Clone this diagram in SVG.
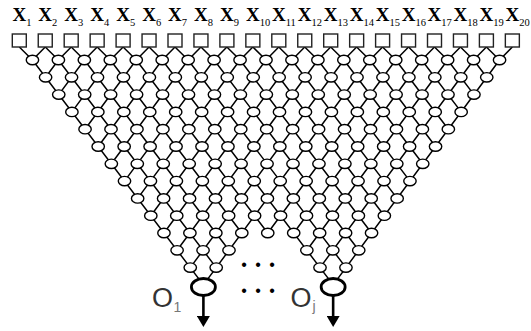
<svg xmlns="http://www.w3.org/2000/svg" width="531" height="331" viewBox="0 0 531 331">
<style>
.c{fill:none;stroke:#000;stroke-width:1.5;stroke-linejoin:round}
.a{fill:none;stroke:#000;stroke-width:2.6}
.hn{fill:#fff;stroke:#000;stroke-width:1.4}
.bn{fill:#fff;stroke:#000;stroke-width:2.8}
.sq{fill:#fff;stroke:#222;stroke-width:1.4}
.lx{font-family:"Liberation Serif",serif;font-size:19px;font-weight:bold;fill:#000}
.sub{font-size:10.5px;font-weight:normal}
.ol{font-family:"Liberation Sans",sans-serif;font-size:27px;fill:#333}
.os{font-family:"Liberation Sans",sans-serif;font-size:14px;fill:#777}
.dots{font-family:"Liberation Sans",sans-serif;font-size:16px;letter-spacing:8.4px;fill:#000}
</style>
<defs>
<ellipse id="e" cx="0" cy="0" rx="6.2" ry="4.7" class="hn"/>
<marker id="ah" markerUnits="userSpaceOnUse" markerWidth="11" markerHeight="13" refX="0" refY="6.5" orient="auto" viewBox="0 0 11 13"><path d="M0,0 L11,6.5 L0,13 z" fill="#000"/></marker>
</defs>
<g id="connectors">
<polyline class="c" points="19.3,47 32.45,60 203.4,284.9"/>
<polyline class="c" points="45.25,47 58.4,60 216.2,267.6"/>
<polyline class="c" points="71.2,47 84.35,60 229,250.3"/>
<polyline class="c" points="97.15,47 110.3,60 241.8,233"/>
<polyline class="c" points="123.1,47 136.25,60 267.75,233"/>
<polyline class="c" points="149.05,47 162.2,60 333.15,284.9"/>
<polyline class="c" points="175,47 188.15,60 345.95,267.6"/>
<polyline class="c" points="200.95,47 214.1,60 358.75,250.3"/>
<polyline class="c" points="226.9,47 240.05,60 371.55,233"/>
<polyline class="c" points="252.85,47 266,60 384.35,215.7"/>
<polyline class="c" points="278.8,47 291.95,60 397.15,198.4"/>
<polyline class="c" points="304.75,47 317.9,60 409.95,181.1"/>
<polyline class="c" points="330.7,47 343.85,60 422.75,163.8"/>
<polyline class="c" points="356.65,47 369.8,60 435.55,146.5"/>
<polyline class="c" points="382.6,47 395.75,60 448.35,129.2"/>
<polyline class="c" points="408.55,47 421.7,60 461.15,111.9"/>
<polyline class="c" points="434.5,47 447.65,60 473.95,94.6"/>
<polyline class="c" points="460.45,47 473.6,60 486.75,77.3"/>
<polyline class="c" points="486.4,47 499.55,60"/>
<polyline class="c" points="45.25,47 32.45,60"/>
<polyline class="c" points="71.2,47 58.4,60 45.6,77.3"/>
<polyline class="c" points="97.15,47 84.35,60 58.75,94.6"/>
<polyline class="c" points="123.1,47 110.3,60 71.9,111.9"/>
<polyline class="c" points="149.05,47 136.25,60 85.05,129.2"/>
<polyline class="c" points="175,47 162.2,60 98.2,146.5"/>
<polyline class="c" points="200.95,47 188.15,60 111.35,163.8"/>
<polyline class="c" points="226.9,47 214.1,60 124.5,181.1"/>
<polyline class="c" points="252.85,47 240.05,60 137.65,198.4"/>
<polyline class="c" points="278.8,47 266,60 150.8,215.7"/>
<polyline class="c" points="304.75,47 291.95,60 163.95,233"/>
<polyline class="c" points="330.7,47 317.9,60 177.1,250.3"/>
<polyline class="c" points="356.65,47 343.85,60 190.25,267.6"/>
<polyline class="c" points="382.6,47 369.8,60 203.4,284.9"/>
<polyline class="c" points="408.55,47 395.75,60 267.75,233"/>
<polyline class="c" points="434.5,47 421.7,60 293.7,233"/>
<polyline class="c" points="460.45,47 447.65,60 306.85,250.3"/>
<polyline class="c" points="486.4,47 473.6,60 320,267.6"/>
<polyline class="c" points="512.35,47 499.55,60 333.15,284.9"/>
<line class="a" x1="203.4" y1="295.5" x2="203.4" y2="316" marker-end="url(#ah)"/>
<line class="a" x1="333.15" y1="295.5" x2="333.15" y2="316" marker-end="url(#ah)"/>
</g>
<g id="inputs">
<g id="x1"><rect class="sq" x="12.3" y="34" width="14" height="13"/><text class="lx" x="12.4" y="21">X<tspan class="sub" dy="5">1</tspan></text></g>
<g id="x2"><rect class="sq" x="38.25" y="34" width="14" height="13"/><text class="lx" x="38.35" y="21">X<tspan class="sub" dy="5">2</tspan></text></g>
<g id="x3"><rect class="sq" x="64.2" y="34" width="14" height="13"/><text class="lx" x="64.3" y="21">X<tspan class="sub" dy="5">3</tspan></text></g>
<g id="x4"><rect class="sq" x="90.15" y="34" width="14" height="13"/><text class="lx" x="90.25" y="21">X<tspan class="sub" dy="5">4</tspan></text></g>
<g id="x5"><rect class="sq" x="116.1" y="34" width="14" height="13"/><text class="lx" x="116.2" y="21">X<tspan class="sub" dy="5">5</tspan></text></g>
<g id="x6"><rect class="sq" x="142.05" y="34" width="14" height="13"/><text class="lx" x="142.15" y="21">X<tspan class="sub" dy="5">6</tspan></text></g>
<g id="x7"><rect class="sq" x="168" y="34" width="14" height="13"/><text class="lx" x="168.1" y="21">X<tspan class="sub" dy="5">7</tspan></text></g>
<g id="x8"><rect class="sq" x="193.95" y="34" width="14" height="13"/><text class="lx" x="194.05" y="21">X<tspan class="sub" dy="5">8</tspan></text></g>
<g id="x9"><rect class="sq" x="219.9" y="34" width="14" height="13"/><text class="lx" x="220" y="21">X<tspan class="sub" dy="5">9</tspan></text></g>
<g id="x10"><rect class="sq" x="245.85" y="34" width="14" height="13"/><text class="lx" x="245.95" y="21">X<tspan class="sub" dy="5">10</tspan></text></g>
<g id="x11"><rect class="sq" x="271.8" y="34" width="14" height="13"/><text class="lx" x="271.9" y="21">X<tspan class="sub" dy="5">11</tspan></text></g>
<g id="x12"><rect class="sq" x="297.75" y="34" width="14" height="13"/><text class="lx" x="297.85" y="21">X<tspan class="sub" dy="5">12</tspan></text></g>
<g id="x13"><rect class="sq" x="323.7" y="34" width="14" height="13"/><text class="lx" x="323.8" y="21">X<tspan class="sub" dy="5">13</tspan></text></g>
<g id="x14"><rect class="sq" x="349.65" y="34" width="14" height="13"/><text class="lx" x="349.75" y="21">X<tspan class="sub" dy="5">14</tspan></text></g>
<g id="x15"><rect class="sq" x="375.6" y="34" width="14" height="13"/><text class="lx" x="375.7" y="21">X<tspan class="sub" dy="5">15</tspan></text></g>
<g id="x16"><rect class="sq" x="401.55" y="34" width="14" height="13"/><text class="lx" x="401.65" y="21">X<tspan class="sub" dy="5">16</tspan></text></g>
<g id="x17"><rect class="sq" x="427.5" y="34" width="14" height="13"/><text class="lx" x="427.6" y="21">X<tspan class="sub" dy="5">17</tspan></text></g>
<g id="x18"><rect class="sq" x="453.45" y="34" width="14" height="13"/><text class="lx" x="453.55" y="21">X<tspan class="sub" dy="5">18</tspan></text></g>
<g id="x19"><rect class="sq" x="479.4" y="34" width="14" height="13"/><text class="lx" x="479.5" y="21">X<tspan class="sub" dy="5">19</tspan></text></g>
<g id="x20"><rect class="sq" x="505.35" y="34" width="14" height="13"/><text class="lx" x="505.45" y="21">X<tspan class="sub" dy="5">20</tspan></text></g>
</g>
<g id="hidden">
<g transform="translate(32.45,60)">
<g id="h1-0"><use href="#e" x="0"/></g><g id="h1-1"><use href="#e" x="25.95"/></g><g id="h1-2"><use href="#e" x="51.9"/></g><g id="h1-3"><use href="#e" x="77.85"/></g><g id="h1-4"><use href="#e" x="103.8"/></g><g id="h1-5"><use href="#e" x="129.75"/></g><g id="h1-6"><use href="#e" x="155.7"/></g><g id="h1-7"><use href="#e" x="181.65"/></g><g id="h1-8"><use href="#e" x="207.6"/></g><g id="h1-9"><use href="#e" x="233.55"/></g><g id="h1-10"><use href="#e" x="259.5"/></g><g id="h1-11"><use href="#e" x="285.45"/></g><g id="h1-12"><use href="#e" x="311.4"/></g><g id="h1-13"><use href="#e" x="337.35"/></g><g id="h1-14"><use href="#e" x="363.3"/></g><g id="h1-15"><use href="#e" x="389.25"/></g><g id="h1-16"><use href="#e" x="415.2"/></g><g id="h1-17"><use href="#e" x="441.15"/></g><g id="h1-18"><use href="#e" x="467.1"/></g>
</g>
<g transform="translate(45.6,77.3)">
<g id="h2-0"><use href="#e" x="0"/></g><g id="h2-1"><use href="#e" x="25.95"/></g><g id="h2-2"><use href="#e" x="51.9"/></g><g id="h2-3"><use href="#e" x="77.85"/></g><g id="h2-4"><use href="#e" x="103.8"/></g><g id="h2-5"><use href="#e" x="129.75"/></g><g id="h2-6"><use href="#e" x="155.7"/></g><g id="h2-7"><use href="#e" x="181.65"/></g><g id="h2-8"><use href="#e" x="207.6"/></g><g id="h2-9"><use href="#e" x="233.55"/></g><g id="h2-10"><use href="#e" x="259.5"/></g><g id="h2-11"><use href="#e" x="285.45"/></g><g id="h2-12"><use href="#e" x="311.4"/></g><g id="h2-13"><use href="#e" x="337.35"/></g><g id="h2-14"><use href="#e" x="363.3"/></g><g id="h2-15"><use href="#e" x="389.25"/></g><g id="h2-16"><use href="#e" x="415.2"/></g><g id="h2-17"><use href="#e" x="441.15"/></g>
</g>
<g transform="translate(58.75,94.6)">
<g id="h3-0"><use href="#e" x="0"/></g><g id="h3-1"><use href="#e" x="25.95"/></g><g id="h3-2"><use href="#e" x="51.9"/></g><g id="h3-3"><use href="#e" x="77.85"/></g><g id="h3-4"><use href="#e" x="103.8"/></g><g id="h3-5"><use href="#e" x="129.75"/></g><g id="h3-6"><use href="#e" x="155.7"/></g><g id="h3-7"><use href="#e" x="181.65"/></g><g id="h3-8"><use href="#e" x="207.6"/></g><g id="h3-9"><use href="#e" x="233.55"/></g><g id="h3-10"><use href="#e" x="259.5"/></g><g id="h3-11"><use href="#e" x="285.45"/></g><g id="h3-12"><use href="#e" x="311.4"/></g><g id="h3-13"><use href="#e" x="337.35"/></g><g id="h3-14"><use href="#e" x="363.3"/></g><g id="h3-15"><use href="#e" x="389.25"/></g><g id="h3-16"><use href="#e" x="415.2"/></g>
</g>
<g transform="translate(71.9,111.9)">
<g id="h4-0"><use href="#e" x="0"/></g><g id="h4-1"><use href="#e" x="25.95"/></g><g id="h4-2"><use href="#e" x="51.9"/></g><g id="h4-3"><use href="#e" x="77.85"/></g><g id="h4-4"><use href="#e" x="103.8"/></g><g id="h4-5"><use href="#e" x="129.75"/></g><g id="h4-6"><use href="#e" x="155.7"/></g><g id="h4-7"><use href="#e" x="181.65"/></g><g id="h4-8"><use href="#e" x="207.6"/></g><g id="h4-9"><use href="#e" x="233.55"/></g><g id="h4-10"><use href="#e" x="259.5"/></g><g id="h4-11"><use href="#e" x="285.45"/></g><g id="h4-12"><use href="#e" x="311.4"/></g><g id="h4-13"><use href="#e" x="337.35"/></g><g id="h4-14"><use href="#e" x="363.3"/></g><g id="h4-15"><use href="#e" x="389.25"/></g>
</g>
<g transform="translate(85.05,129.2)">
<g id="h5-0"><use href="#e" x="0"/></g><g id="h5-1"><use href="#e" x="25.95"/></g><g id="h5-2"><use href="#e" x="51.9"/></g><g id="h5-3"><use href="#e" x="77.85"/></g><g id="h5-4"><use href="#e" x="103.8"/></g><g id="h5-5"><use href="#e" x="129.75"/></g><g id="h5-6"><use href="#e" x="155.7"/></g><g id="h5-7"><use href="#e" x="181.65"/></g><g id="h5-8"><use href="#e" x="207.6"/></g><g id="h5-9"><use href="#e" x="233.55"/></g><g id="h5-10"><use href="#e" x="259.5"/></g><g id="h5-11"><use href="#e" x="285.45"/></g><g id="h5-12"><use href="#e" x="311.4"/></g><g id="h5-13"><use href="#e" x="337.35"/></g><g id="h5-14"><use href="#e" x="363.3"/></g>
</g>
<g transform="translate(98.2,146.5)">
<g id="h6-0"><use href="#e" x="0"/></g><g id="h6-1"><use href="#e" x="25.95"/></g><g id="h6-2"><use href="#e" x="51.9"/></g><g id="h6-3"><use href="#e" x="77.85"/></g><g id="h6-4"><use href="#e" x="103.8"/></g><g id="h6-5"><use href="#e" x="129.75"/></g><g id="h6-6"><use href="#e" x="155.7"/></g><g id="h6-7"><use href="#e" x="181.65"/></g><g id="h6-8"><use href="#e" x="207.6"/></g><g id="h6-9"><use href="#e" x="233.55"/></g><g id="h6-10"><use href="#e" x="259.5"/></g><g id="h6-11"><use href="#e" x="285.45"/></g><g id="h6-12"><use href="#e" x="311.4"/></g><g id="h6-13"><use href="#e" x="337.35"/></g>
</g>
<g transform="translate(111.35,163.8)">
<g id="h7-0"><use href="#e" x="0"/></g><g id="h7-1"><use href="#e" x="25.95"/></g><g id="h7-2"><use href="#e" x="51.9"/></g><g id="h7-3"><use href="#e" x="77.85"/></g><g id="h7-4"><use href="#e" x="103.8"/></g><g id="h7-5"><use href="#e" x="129.75"/></g><g id="h7-6"><use href="#e" x="155.7"/></g><g id="h7-7"><use href="#e" x="181.65"/></g><g id="h7-8"><use href="#e" x="207.6"/></g><g id="h7-9"><use href="#e" x="233.55"/></g><g id="h7-10"><use href="#e" x="259.5"/></g><g id="h7-11"><use href="#e" x="285.45"/></g><g id="h7-12"><use href="#e" x="311.4"/></g>
</g>
<g transform="translate(124.5,181.1)">
<g id="h8-0"><use href="#e" x="0"/></g><g id="h8-1"><use href="#e" x="25.95"/></g><g id="h8-2"><use href="#e" x="51.9"/></g><g id="h8-3"><use href="#e" x="77.85"/></g><g id="h8-4"><use href="#e" x="103.8"/></g><g id="h8-5"><use href="#e" x="129.75"/></g><g id="h8-6"><use href="#e" x="155.7"/></g><g id="h8-7"><use href="#e" x="181.65"/></g><g id="h8-8"><use href="#e" x="207.6"/></g><g id="h8-9"><use href="#e" x="233.55"/></g><g id="h8-10"><use href="#e" x="259.5"/></g><g id="h8-11"><use href="#e" x="285.45"/></g>
</g>
<g transform="translate(137.65,198.4)">
<g id="h9-0"><use href="#e" x="0"/></g><g id="h9-1"><use href="#e" x="25.95"/></g><g id="h9-2"><use href="#e" x="51.9"/></g><g id="h9-3"><use href="#e" x="77.85"/></g><g id="h9-4"><use href="#e" x="103.8"/></g><g id="h9-5"><use href="#e" x="129.75"/></g><g id="h9-6"><use href="#e" x="155.7"/></g><g id="h9-7"><use href="#e" x="181.65"/></g><g id="h9-8"><use href="#e" x="207.6"/></g><g id="h9-9"><use href="#e" x="233.55"/></g><g id="h9-10"><use href="#e" x="259.5"/></g>
</g>
<g transform="translate(150.8,215.7)">
<g id="h10-0"><use href="#e" x="0"/></g><g id="h10-1"><use href="#e" x="25.95"/></g><g id="h10-2"><use href="#e" x="51.9"/></g><g id="h10-3"><use href="#e" x="77.85"/></g><g id="h10-4"><use href="#e" x="103.8"/></g><g id="h10-5"><use href="#e" x="129.75"/></g><g id="h10-6"><use href="#e" x="155.7"/></g><g id="h10-7"><use href="#e" x="181.65"/></g><g id="h10-8"><use href="#e" x="207.6"/></g><g id="h10-9"><use href="#e" x="233.55"/></g>
</g>
<g transform="translate(163.95,233)">
<g id="h11-0"><use href="#e" x="0"/></g><g id="h11-1"><use href="#e" x="25.95"/></g><g id="h11-2"><use href="#e" x="51.9"/></g><g id="h11-3"><use href="#e" x="77.85"/></g><g id="h11-4"><use href="#e" x="103.8"/></g><g id="h11-5"><use href="#e" x="129.75"/></g><g id="h11-6"><use href="#e" x="155.7"/></g><g id="h11-7"><use href="#e" x="181.65"/></g><g id="h11-8"><use href="#e" x="207.6"/></g>
</g>
<g transform="translate(177.1,250.3)">
<g id="h12-0"><use href="#e" x="0"/></g><g id="h12-1"><use href="#e" x="25.95"/></g><g id="h12-2"><use href="#e" x="51.9"/></g><g id="h12-5"><use href="#e" x="129.75"/></g><g id="h12-6"><use href="#e" x="155.7"/></g><g id="h12-7"><use href="#e" x="181.65"/></g>
</g>
<g transform="translate(190.25,267.6)">
<g id="h13-0"><use href="#e" x="0"/></g><g id="h13-1"><use href="#e" x="25.95"/></g><g id="h13-5"><use href="#e" x="129.75"/></g><g id="h13-6"><use href="#e" x="155.7"/></g>
</g>
</g>
<g id="out1"><ellipse class="bn" cx="203.4" cy="287" rx="12" ry="8.5"/></g>
<g id="outj"><ellipse class="bn" cx="333.15" cy="287" rx="12" ry="8.5"/></g>
<g id="label-o1"><text class="ol" x="152" y="307">O</text><text class="os" x="173.5" y="312">1</text></g>
<g id="label-oj"><text class="ol" x="290.5" y="307">O</text><text class="os" x="312.5" y="311">j</text></g>
<g id="ellipsis">
<text class="dots" x="241.2" y="269.8">•••</text>
<text class="dots" x="241.2" y="295.8">•••</text>
</g>
</svg>
